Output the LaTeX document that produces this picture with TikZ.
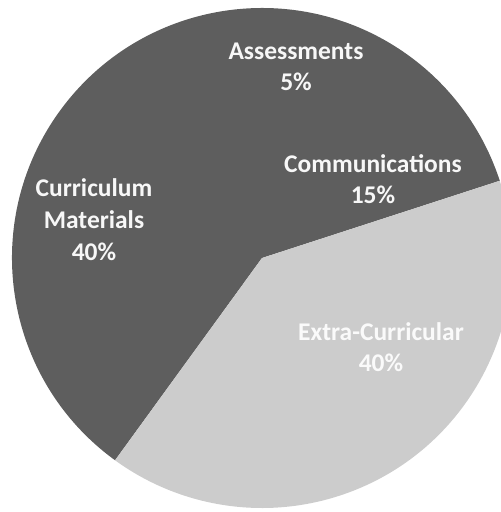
\documentclass[tikz,border=0pt]{standalone}
\usepackage{fontspec}
\setmainfont{Carlito}
\definecolor{sliceDark}{gray}{0.37}
\definecolor{sliceLight}{gray}{0.8}
\definecolor{labelText}{gray}{0.97}
\newcommand{\pieR}{250}

\begin{document}
\begin{tikzpicture}[x=0.02cm, y=-0.02cm, every node/.style={text=labelText, align=center, font=\bfseries\fontsize{14.5}{17.6}\selectfont}]
        \clip (0,0) rectangle (501,512);
        \coordinate (pieCentre) at (262,258);

        % slices, clockwise from the top
        \fill [sliceDark] (pieCentre) -- ++(126:\pieR) arc [start angle=126, end angle=342, radius=\pieR] -- cycle;
        \fill [sliceLight] (pieCentre) -- ++(-18:\pieR) arc [start angle=-18, end angle=126, radius=\pieR] -- cycle;

        \node (lblAssess) at (296,67) {Assessments\\5\%};
        \node (lblComm) at (373,179) {Communications\\15\%};
        \node[font=\bfseries\fontsize{14.5}{18.2}\selectfont] (lblCurric) at (94,220) {Curriculum\\Materials\\40\%};
        \node[text=white!90!sliceLight] (lblExtra) at (381,347) {Extra-Curricular\\40\%};
    \end{tikzpicture}
\end{document}
